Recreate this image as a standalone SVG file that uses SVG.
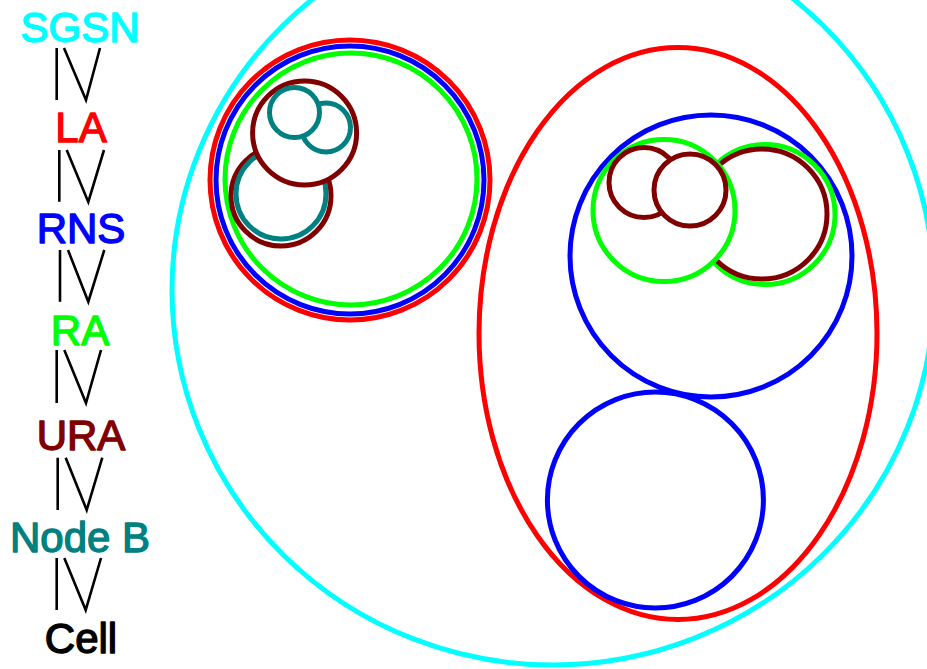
<svg xmlns="http://www.w3.org/2000/svg" width="927" height="669" viewBox="0 0 927 669">
<style>
.c{stroke-width:5;fill:none}
.w{fill:#fff}
.cy{stroke:#00ffff}.rd{stroke:#ff0000}.bl{stroke:#0000ff}.gr{stroke:#00ff00}.mr{stroke:#800000}.tl{stroke:#008080}
.t{font-family:"Liberation Sans",Arial,sans-serif;font-size:42px;text-anchor:middle;stroke-width:1.4;stroke-linejoin:round}
.ln{stroke:#000;stroke-width:2.6;fill:none}
</style>
<rect width="927" height="669" fill="#fff"/>
<g id="legend">
<text class="t" x="80" y="41.5" fill="#00ffff" stroke="#00ffff">SGSN</text>
<text class="t" x="81" y="142" fill="#ff0000" stroke="#ff0000">LA</text>
<text class="t" x="81" y="243" fill="#0000ff" stroke="#0000ff">RNS</text>
<text class="t" x="80" y="345" fill="#00ff00" stroke="#00ff00">RA</text>
<text class="t" x="81" y="450" fill="#800000" stroke="#800000">URA</text>
<text class="t" x="80" y="551.5" fill="#008080" stroke="#008080">Node B</text>
<text class="t" x="81" y="653" fill="#000" stroke="#000">Cell</text>
</g>
<g id="connectors">
<path class="ln" d="M56.7,48V100M64,48L86,100L100,48"/>
<path class="ln" d="M59.3,150V201.7M66.7,150L88.3,202L104,150"/>
<path class="ln" d="M60,250V301.7M68,250L88.3,301.7L104.3,250"/>
<path class="ln" d="M56.7,350V403M64.3,350L86,403L101,350"/>
<path class="ln" d="M57.7,457.7V510M65.7,457.7L86.7,510L102.3,457.7"/>
<path class="ln" d="M56.7,558V610M64.3,558L85.7,610L101,558"/>
</g>
<g id="sgsn"><ellipse class="c cy" cx="553" cy="290" rx="381" ry="375"/></g>
<g id="la1"><circle class="c rd" cx="350" cy="180" r="140"/></g>
<g id="rns1"><circle class="c bl" cx="350" cy="180" r="134"/></g>
<g id="ra1"><circle class="c gr" cx="351" cy="179" r="126"/></g>
<g id="ura1b"><circle class="c mr" cx="281" cy="196" r="50"/></g>
<g id="nodeb1c"><circle class="c tl" cx="281" cy="194" r="45"/></g>
<g id="ura1a"><circle class="c mr w" cx="304.6" cy="133" r="52"/></g>
<g id="nodeb1b"><circle class="c tl" cx="326" cy="127.5" r="24.5"/></g>
<g id="nodeb1a"><circle class="c tl w" cx="294.5" cy="112.5" r="25"/></g>
<g id="la2"><ellipse class="c rd" cx="678" cy="333.5" rx="199" ry="286"/></g>
<g id="rns2"><circle class="c bl" cx="711" cy="256" r="141"/></g>
<g id="rns3"><circle class="c bl" cx="655.4" cy="500" r="108"/></g>
<g id="ra3"><circle class="c gr" cx="765" cy="214.5" r="70"/></g>
<g id="ura4"><circle class="c mr" cx="762" cy="214" r="65"/></g>
<g id="ra2"><circle class="c gr w" cx="664" cy="210.5" r="71"/></g>
<g id="ura2"><circle class="c mr" cx="644" cy="182.5" r="35"/></g>
<g id="ura3"><circle class="c mr w" cx="690" cy="190" r="36"/></g>
</svg>
